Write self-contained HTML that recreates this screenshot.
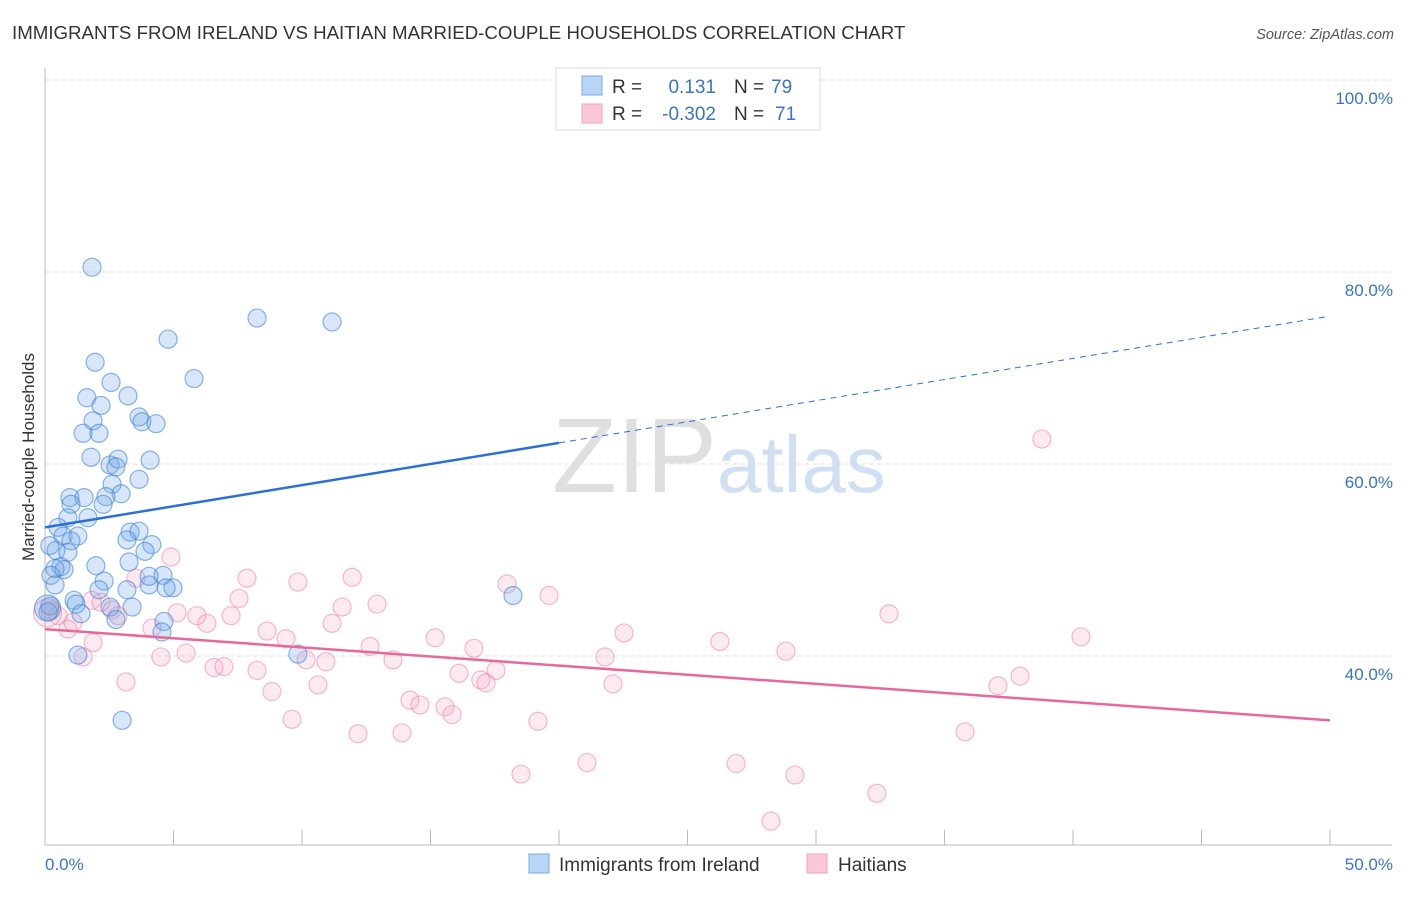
<!DOCTYPE html>
<html><head><meta charset="utf-8"><style>
body{margin:0;background:#fff;font-family:"Liberation Sans",sans-serif;}
svg text{font-family:"Liberation Sans",sans-serif;}
</style></head><body>
<svg id="chart" width="1406" height="892" xmlns="http://www.w3.org/2000/svg">
<text x="12" y="39" font-size="18.7" fill="#333">IMMIGRANTS FROM IRELAND VS HAITIAN MARRIED-COUPLE HOUSEHOLDS CORRELATION CHART</text>
<text x="1394" y="39" font-size="14.5" fill="#555" font-style="italic" text-anchor="end">Source: ZipAtlas.com</text>
<g id="grid"></g>
<text x="552" y="492" font-size="106" fill="#d8d8d8" font-family="Liberation Serif" opacity="0.8">ZIP<tspan fill="#c6d8f0" font-family="Liberation Sans" font-size="80">atlas</tspan></text>
<line x1="45" y1="68" x2="45" y2="845" stroke="#bbb"/>
<line x1="45" y1="845" x2="1392" y2="845" stroke="#bbb"/>
<g id="ticks"></g>
<g id="pts"></g>
<g id="trend"></g>
<text transform="translate(34,457) rotate(-90)" font-size="17" fill="#333" text-anchor="middle">Married-couple Households</text>
<text x="45" y="870" font-size="17" fill="#3a75c4">0.0%</text>
<text x="1393" y="870" font-size="17" fill="#3a75c4" text-anchor="end">50.0%</text>
<g>
<rect x="556" y="68" width="264" height="62" fill="#fff" stroke="#ddd"/>
<rect x="582" y="76" width="20" height="19" fill="#b8d4f6" stroke="#7aa8e0"/>
<rect x="582" y="104" width="20" height="19" fill="#fcc8d8" stroke="#f0a0b8"/>
<text x="612" y="93" font-size="19" fill="#333">R =</text>
<text x="716" y="93" font-size="19" fill="#3a75c4" text-anchor="end">0.131</text>
<text x="734" y="93" font-size="19" fill="#333">N =</text><text x="771" y="93" font-size="19" fill="#3a75c4">79</text>
<text x="612" y="120" font-size="19" fill="#333">R =</text>
<text x="716" y="120" font-size="19" fill="#3a75c4" text-anchor="end">-0.302</text>
<text x="734" y="120" font-size="19" fill="#333">N =</text><text x="775" y="120" font-size="19" fill="#3a75c4">71</text>
</g>
<g>
<rect x="529" y="854" width="20" height="19" fill="#b8d4f6" stroke="#7aa8e0"/>
<text x="559" y="871" font-size="19" fill="#333">Immigrants from Ireland</text></g>
<g>
<rect x="807" y="854" width="20" height="19" fill="#fcc8d8" stroke="#f0a0b8"/>
<text x="838" y="871" font-size="19" fill="#333">Haitians</text></g>
</svg>
<script>
const yTicks=[100,80,60,40];
const xTicks=[0,5,10,15,20,25,30,35,40,45,50];
const blueX=[1.83,8.25,11.17,4.79,5.80,1.95,2.57,1.63,3.23,2.18,1.87,3.66,3.77,4.32,1.48,2.10,1.79,4.09,2.53,2.84,2.76,3.66,2.61,2.96,2.37,0.97,1.52,1.01,2.26,1.67,0.89,3.31,3.66,0.51,0.70,3.19,1.28,4.16,1.01,3.89,0.43,0.89,0.19,3.27,1.98,0.62,0.74,0.39,0.23,0.39,2.30,4.59,4.05,4.98,4.71,2.10,3.19,1.13,1.21,3.39,1.40,2.53,2.76,0.19,0.12,4.63,4.55,9.84,1.28,18.21,3.00,4.05,0.1];
const blueY=[80.5,75.2,74.8,73.0,68.9,70.6,68.5,66.9,67.1,66.1,64.5,64.9,64.4,64.2,63.2,63.2,60.7,60.4,59.9,60.5,59.7,58.4,57.9,56.9,56.6,56.5,56.5,55.8,55.8,54.4,54.4,52.9,53.0,53.4,52.5,52.1,52.5,51.6,52.0,50.9,51.0,50.8,51.5,49.8,49.4,49.3,49.0,49.1,48.4,47.4,47.8,48.4,47.4,47.1,47.1,46.9,46.9,45.8,45.4,45.1,44.4,45.1,43.8,45.2,44.6,43.6,42.5,40.2,40.1,46.3,33.3,48.3,45.0];
const pinkX=[38.79,4.90,3.54,7.86,9.84,11.95,17.98,19.61,7.55,12.92,11.56,1.83,2.18,5.14,5.91,6.30,7.24,11.17,4.16,8.64,9.38,0.89,1.09,22.53,15.18,16.69,12.65,26.26,28.83,32.84,40.31,4.51,5.49,1.87,1.48,10.16,10.93,13.54,21.79,6.58,6.96,8.25,16.11,17.55,16.96,17.16,3.15,10.62,8.83,22.10,37.94,37.08,14.20,14.59,15.56,15.84,9.61,19.18,12.18,13.89,35.80,18.52,21.09,26.89,29.18,32.37,28.25,0.19,0.51,2.61,2.84,0.1];
const pinkY=[62.6,50.3,48.1,48.1,47.7,48.2,47.5,46.3,46.0,45.4,45.1,45.8,45.6,44.5,44.2,43.4,44.2,43.4,42.9,42.6,41.8,42.8,43.5,42.4,41.9,40.8,41.0,41.5,40.5,44.4,42.0,39.9,40.3,41.4,39.9,39.6,39.4,39.6,39.9,38.8,38.9,38.5,38.2,38.5,37.5,37.2,37.3,37.0,36.3,37.1,37.9,36.9,35.4,34.9,34.7,33.9,33.4,33.2,31.9,32.0,32.1,27.7,28.9,28.8,27.6,25.7,22.8,44.8,44.2,44.8,44.2,44.5];
const blueTrend=[53.4,0.44];
const pinkTrend=[42.8,-0.19];
const NS='http://www.w3.org/2000/svg';
const X=v=>45+v*25.7;
const Y=v=>80+(100-v)*9.6;
function mk(t,a,p){const e=document.createElementNS(NS,t);for(const k in a)e.setAttribute(k,a[k]);p.appendChild(e);return e;}
const grid=document.getElementById('grid');
yTicks.forEach(t=>{
  const l=mk('line',{x1:45,x2:1392,y1:Y(t),y2:Y(t),stroke:'#ddd','stroke-dasharray':'4,4'},grid);
  
  
  const tx=mk('text',{x:1393,y:Y(t)+24,'font-size':17,fill:'#3a75c4','text-anchor':'end'},grid);
  tx.textContent=t.toFixed(1)+'%';
  
  
});
const ticks=document.getElementById('ticks');
xTicks.forEach(t=>{
  const l=mk('line',{x1:X(t),x2:X(t),y1:830,y2:845,stroke:'#bbb'},ticks);
  
  
});
const pts=document.getElementById('pts');
pinkX.forEach((v,i)=>{
  const c=mk('circle',{cx:X(v),cy:Y(pinkY[i]),r:i==pinkX.length-1?14:9,fill:'rgba(245,160,190,0.22)',stroke:'rgba(235,130,165,0.55)','stroke-width':1.2},pts);
  
  
});
blueX.forEach((v,i)=>{
  const c=mk('circle',{cx:X(v),cy:Y(blueY[i]),r:i==blueX.length-1?13:9,fill:'rgba(110,165,230,0.28)',stroke:'rgba(60,130,215,0.6)','stroke-width':1.2},pts);
  
  
});
const tr=document.getElementById('trend');
const b1=mk('line',{x1:X(0),y1:Y(blueTrend[0]),x2:X(20),y2:Y(blueTrend[0]+blueTrend[1]*20),stroke:'#2a6fd6','stroke-width':2.5},tr);


const b2=mk('line',{x1:X(20),y1:Y(blueTrend[0]+blueTrend[1]*20),x2:X(49.8),y2:Y(blueTrend[0]+blueTrend[1]*49.8),stroke:'#2a6fd6','stroke-width':1,'stroke-dasharray':'6,5'},tr);


const p1=mk('line',{x1:X(0),y1:Y(pinkTrend[0]),x2:X(50),y2:Y(pinkTrend[0]+pinkTrend[1]*50),stroke:'#e8689a','stroke-width':2.5},tr);


</script>
</body></html>
